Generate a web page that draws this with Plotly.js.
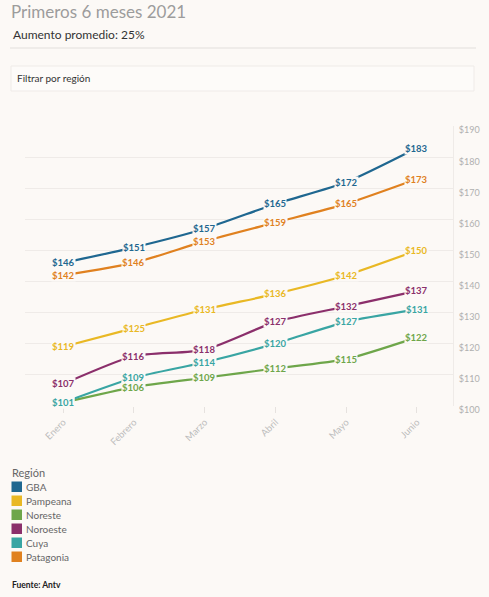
<!DOCTYPE html>
<html>
<head>
<meta charset="utf-8">
<script src="https://cdn.plot.ly/plotly-3.0.1.min.js"></script>
<style>
html,body{margin:0;padding:0;background:#fcf9f6;}
#chart{width:489px;height:597px;}
</style>
</head>
<body>
<div id="chart"></div>
<script>
// ---- data ----
var months = ["Enero", "Febrero", "Marzo", "Abril", "Mayo", "Junio"];
var regions = ["GBA", "Pampeana", "Noreste", "Noroeste", "Cuya", "Patagonia"];
var gba       = [146, 151, 157, 165, 172, 183];
var pampeana  = [119, 125, 131, 136, 142, 150];
var noreste   = [101, 106, 109, 112, 115, 122];
var noroeste  = [107, 116, 118, 127, 132, 137];
var cuyo      = [101, 109, 114, 120, 127, 131];
var patagonia = [142, 146, 153, 159, 165, 173];
var yTicks = [100, 110, 120, 130, 140, 150, 160, 170, 180, 190];
var yTickText = ["$100", "$110", "$120", "$130", "$140", "$150", "$160", "$170", "$180", "$190"];
var colors = ["#1f6790", "#e9b824", "#6ea64a", "#8b2f6b", "#39a5a3", "#e0811f"];

// ---- build ----
var BG = "#fcf9f6";
var series = [gba, pampeana, noreste, noroeste, cuyo, patagonia];
var FONT = "Lato, 'Open Sans', sans-serif";
var L = 25, R = 453, T = 126, B = 406, W = R - L, H = B - T;
function px(x){ return (x - L) / W; }
function py(y){ return (B - y) / H; }

var traces = [];
var annotations = [];
series.forEach(function(vals, i){
  traces.push({
    type: "scatter", mode: "lines", x: months, y: vals, name: regions[i],
    line: {color: colors[i], width: 2.2, shape: "spline", smoothing: 0.6},
    hoverinfo: "skip", showlegend: false
  });
});
series.forEach(function(vals, i){
  vals.forEach(function(v, j){
    annotations.push({
      x: months[j], y: v, xref: "x", yref: "y", text: "$" + v,
      showarrow: false, bgcolor: BG, borderpad: 0,
      font: {family: FONT, size: 9.5, color: colors[i], weight: 700}
    });
  });
});

// header
annotations.push({xref:"paper", yref:"paper", x:px(11), y:py(34), xanchor:"left", yanchor:"middle",
  text:"Aumento promedio: 25%", showarrow:false, font:{family:FONT, size:12, color:"#333"}});
annotations.push({xref:"paper", yref:"paper", x:px(15), y:py(78), xanchor:"left", yanchor:"middle",
  text:"Filtrar por región", showarrow:false, font:{family:FONT, size:10, color:"#333"}});
// legend
annotations.push({xref:"paper", yref:"paper", x:px(10), y:py(472), xanchor:"left", yanchor:"middle",
  text:"Región", showarrow:false, font:{family:FONT, size:11, color:"#666"}});
var shapes = [
  {type:"line", xref:"paper", yref:"paper", x0:px(10), x1:px(476), y0:py(48), y1:py(48),
   line:{color:"#e2dfdc", width:1}},
  {type:"rect", xref:"paper", yref:"paper", x0:px(11), x1:px(474), y0:py(66), y1:py(91),
   line:{color:"#efebe8", width:1}, fillcolor:"#fdfbf9", layer:"below"}
];
regions.forEach(function(r, i){
  var cy = 487 + 14 * i;
  shapes.push({type:"rect", xref:"paper", yref:"paper", x0:px(11.5), x1:px(22), y0:py(cy-5.5), y1:py(cy+5),
    line:{width:0}, fillcolor:colors[i]});
  annotations.push({xref:"paper", yref:"paper", x:px(24), y:py(cy), xanchor:"left", yanchor:"middle",
    text:r, showarrow:false, font:{family:FONT, size:10, color:"#666"}});
});
annotations.push({xref:"paper", yref:"paper", x:px(10), y:py(585), xanchor:"left", yanchor:"middle",
  text:"Fuente: Antv", showarrow:false, font:{family:FONT, size:8.5, color:"#222", weight:700}});

var layout = {
  width: 489, height: 597,
  paper_bgcolor: BG, plot_bgcolor: BG,
  margin: {l: L, r: 489 - R, t: T, b: 597 - B, pad: 0},
  title: {text: "Primeros 6 meses 2021", xref: "container", yref: "container",
    x: 11/489, xanchor: "left", y: 1 - 12/597, yanchor: "middle",
    font: {family: FONT, size: 17, color: "#9c9c9c"}},
  xaxis: {type: "category", range: [-0.54, 5.51], showgrid: false, zeroline: false,
    ticks: "outside", ticklen: 6, tickcolor: "#e6e2df", tickwidth: 1,
    tickangle: -45, tickfont: {family: FONT, size: 9.5, color: "#bdbdbd"},
    showline: false, fixedrange: true},
  yaxis: {side: "right", range: [99.9, 190.1], tickmode: "array", tickvals: yTicks, ticktext: yTickText,
    showgrid: true, gridcolor: "#efebe8", gridwidth: 1, zeroline: false,
    showline: true, linecolor: "#efebe8", linewidth: 1,
    ticks: "", ticklabelshift: 4, ticklabelstandoff: 3,
    tickfont: {family: FONT, size: 9, color: "#b0b0b0"}, fixedrange: true},
  showlegend: false,
  annotations: annotations,
  shapes: shapes
};

Plotly.newPlot("chart", traces, layout, {displayModeBar: false, staticPlot: true});
</script>
</body>
</html>
